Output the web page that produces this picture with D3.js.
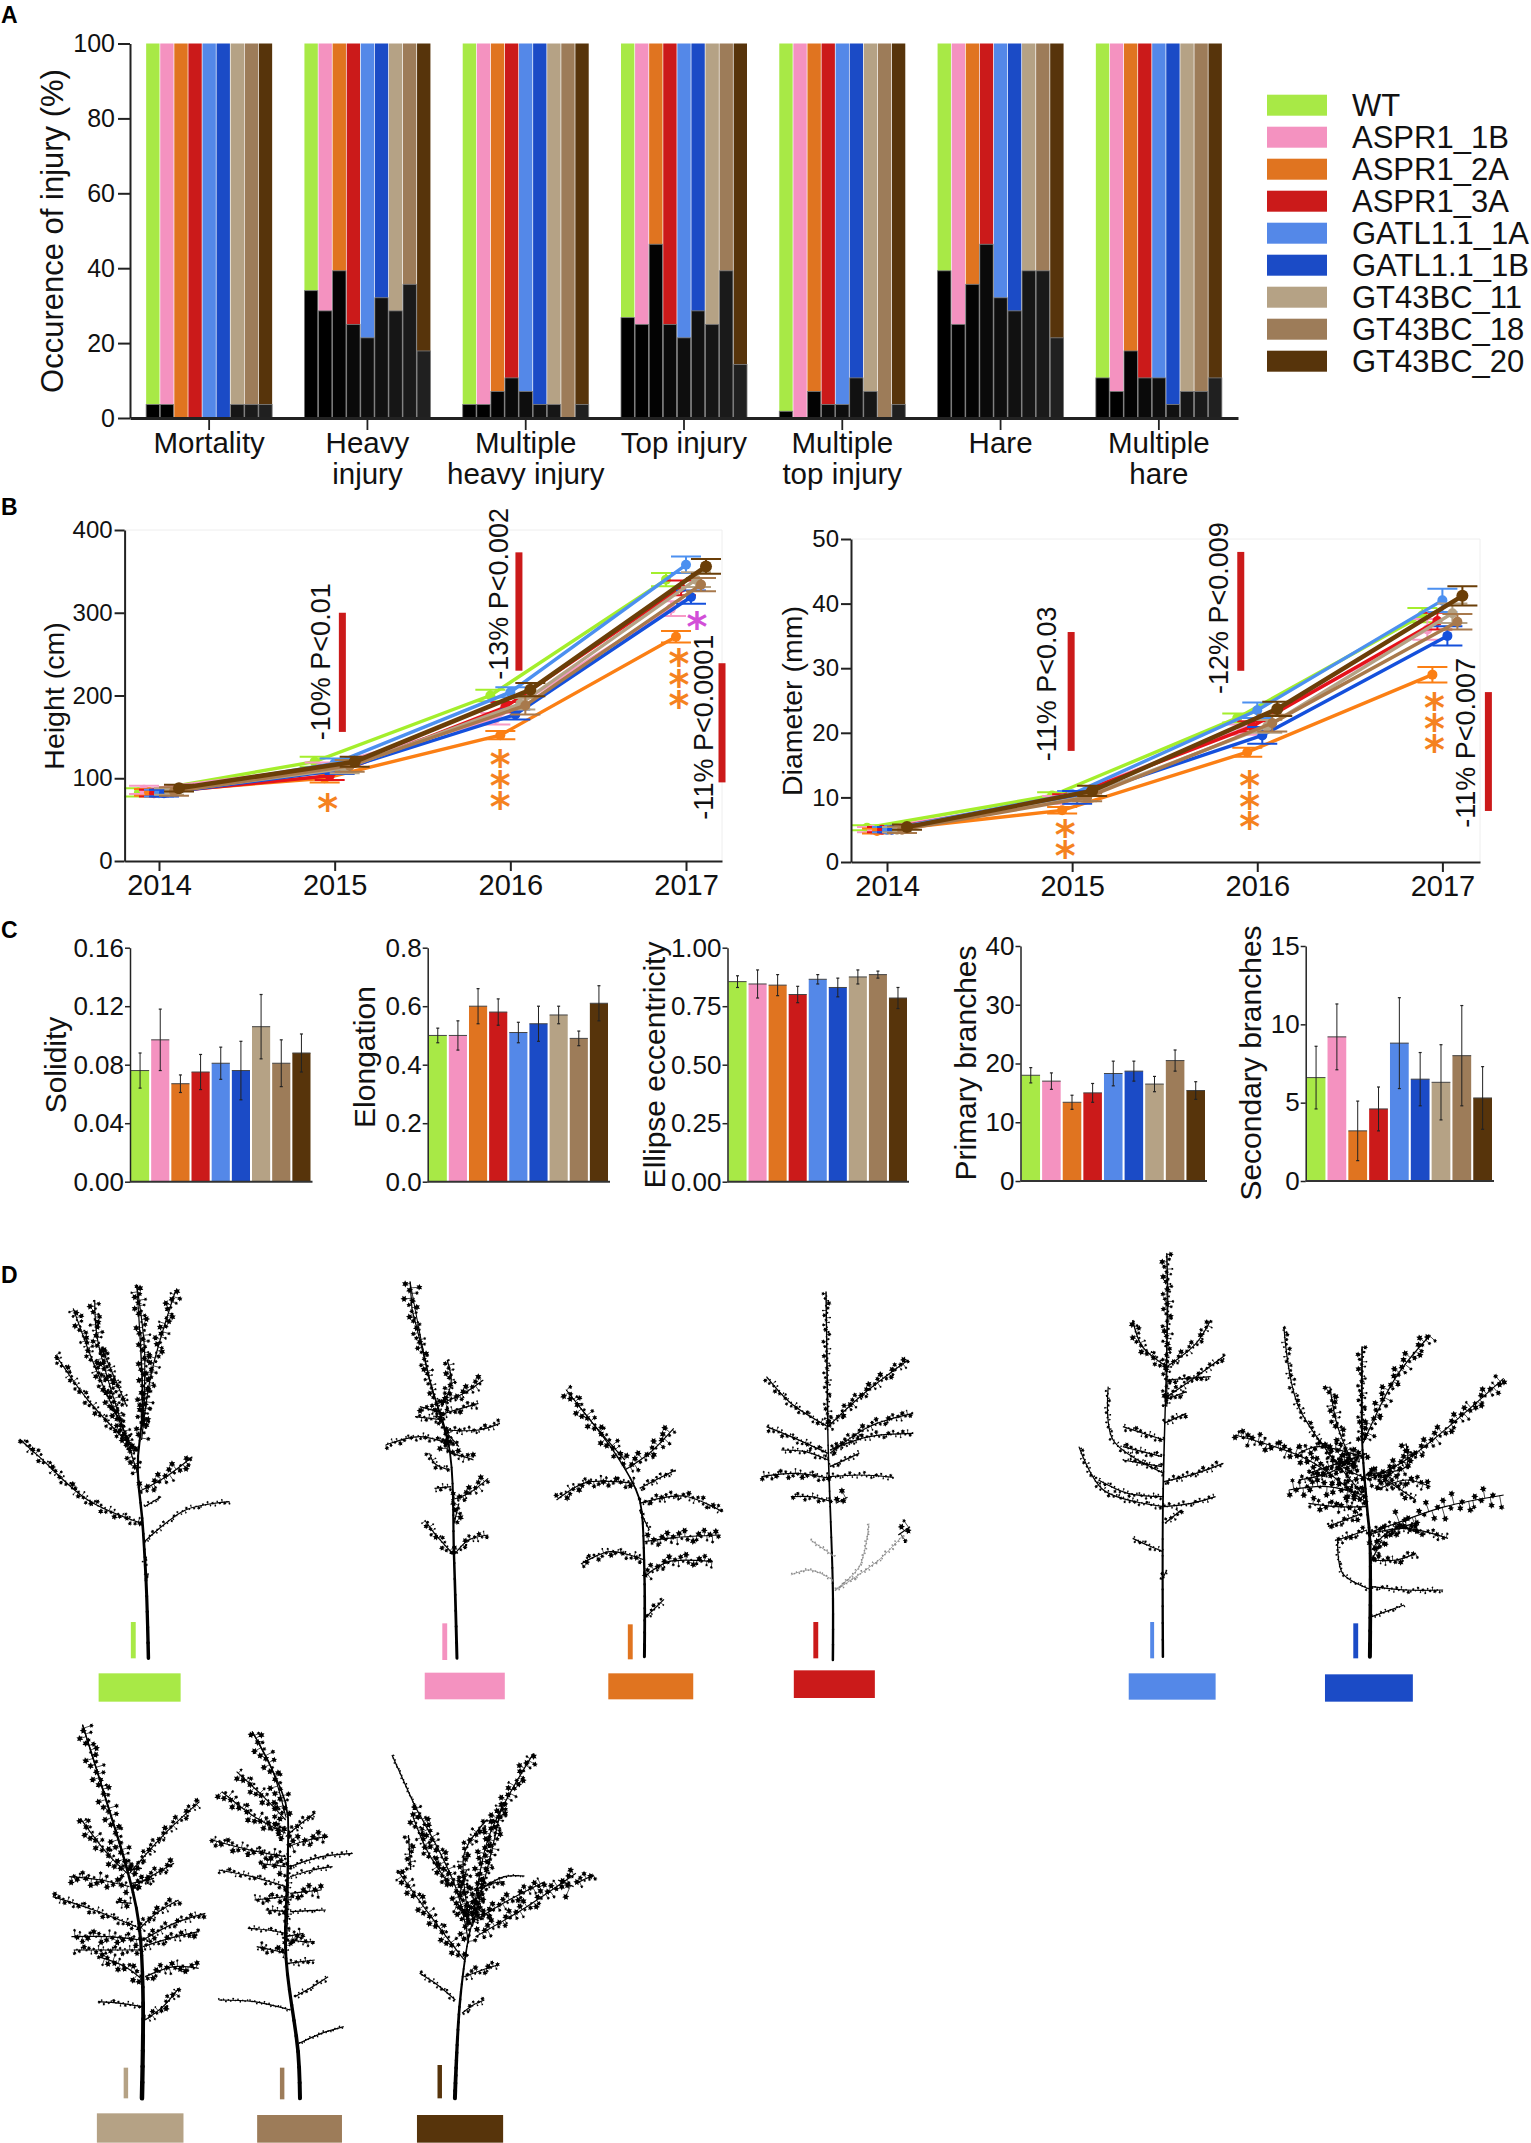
<!DOCTYPE html>
<html><head><meta charset="utf-8">
<script src="https://cdn.jsdelivr.net/npm/d3@7"></script>
<style>
html,body{margin:0;padding:0;background:#fff}
svg{display:block}
text{font-family:"Liberation Sans",Arial,sans-serif;fill:#111}
</style></head><body>
<svg id="c" width="1531" height="2143"></svg>
<script>
const lines = ["WT","ASPR1_1B","ASPR1_2A","ASPR1_3A","GATL1.1_1A","GATL1.1_1B","GT43BC_11","GT43BC_18","GT43BC_20"];
const barColors = ["#a8e946","#f492c0","#e07420","#cb1a1a","#5488e8","#1b4bc6","#b5a285","#9d7c59","#57340b"];
const lineColors = ["#a4ee2c","#f79ac6","#fb7f14","#e5121a","#4c90f0","#1450dc","#b5a285","#a8794c","#6a3e08"];
const darkShades = ["#000","#000","#030303","#0a0a0a","#0e0e0e","#111","#161616","#1a1a1a","#202020"];

// Panel A
const injuryCats = [["Mortality"],["Heavy","injury"],["Multiple","heavy injury"],["Top injury"],["Multiple","top injury"],["Hare"],["Multiple","hare"]];
const mortality = [3.6,3.6,0,0,0,0,3.6,3.6,3.6];
const heavyInjury = [34,28.6,39.3,25,21.4,32.1,28.6,35.7,17.9];
const multiHeavy = [3.6,3.6,7.1,10.7,7.1,3.6,3.6,0,3.6];
const topInjury = [26.8,25,46.4,25,21.4,28.6,25,39.3,14.3];
const multiTop = [1.8,0,7.1,3.6,3.6,10.7,7.1,0,3.6];
const hare = [39.3,25,35.7,46.4,32.1,28.6,39.3,39.3,21.4];
const multiHare = [10.7,7.1,17.9,10.7,10.7,3.6,7.1,7.1,10.7];
const injuryTable = [mortality,heavyInjury,multiHeavy,topInjury,multiTop,hare,multiHare];

// Panel B
const years = [2014,2015,2016,2017];
const heightVals = [[83,120,200,340],[86,112,172,305],[83,100,152,271],[82,103,186,330],[82,118,204,358],[82,110,177,319],[84,112,190,340],[84,115,188,334],[88,120,207,356]];
const heightErr = [[5,6,7,8],[5,7,7,9],[4,5,5,7],[4,5,6,9],[4,6,6,10],[4,5,6,8],[4,6,7,9],[5,7,11,8],[4,6,8,9]];
const diamVals = [[5.3,10.3,22.3,38.2],[5,9.6,20.5,36],[4.8,8,17,29],[5,10,21,37.3],[5,10.5,23.5,40.5],[5,10,19.6,35],[5,10,21,38.5],[5,10,21.5,37.2],[5.4,11,23.7,41.2]];
const diamErr = [[.4,.5,.7,1.1],[.4,.6,.8,1.6],[.4,.5,.7,1.2],[.4,.5,.8,1.3],[.4,.5,1.2,1.8],[.4,1,1.3,1.5],[.4,.6,1,1.5],[.5,.6,1.3,1.2],[.4,.8,1.1,1.5]];
const heightNotes = [{y:2015,t:"-10% P<0.01",from:156,to:300,tb:146,bar:7.7,txt:-5},{y:2016,t:"-13% P<0.002",from:230,to:373,tb:219,bar:8.6,txt:-2.4},{y:2017,t:"-11% P<0.0001",from:95,to:239,tb:50,bar:36,txt:26.5}];
const diamNotes = [{y:2015,t:"-11% P<0.03",from:17.2,to:35.6,tb:15.6,bar:-1,txt:-16},{y:2016,t:"-12% P<0.009",from:29.6,to:48,tb:26,bar:-16.5,txt:-29.5},{y:2017,t:"-11% P<0.007",from:7.9,to:26.3,tb:5.3,bar:46,txt:32.6}];
const heightStars = [[2015,-7,71,"#f5821f"],[2016,-10,124.5,"#f5821f"],[2016,-10,99,"#f5821f"],[2016,-10,74,"#f5821f"],[2017,-7,246.5,"#f5821f"],[2017,-7,221,"#f5821f"],[2017,-7,196,"#f5821f"],[2017,11,291,"#d24fd8"]];
const diamStars = [[2015,-7,5.3,"#f5821f"],[2015,-7,2,"#f5821f"],[2016,-7.5,12.8,"#f5821f"],[2016,-7.5,9.6,"#f5821f"],[2016,-7.5,6.5,"#f5821f"],[2017,-8,24.9,"#f5821f"],[2017,-8,21.7,"#f5821f"],[2017,-8,18.4,"#f5821f"]];

// Panel C
const solidity = [.076,.097,.067,.075,.081,.076,.106,.081,.088];
const solidityErr = [.012,.021,.006,.012,.011,.02,.022,.016,.013];
const elongation = [.50,.50,.60,.58,.51,.54,.57,.49,.61];
const elongationErr = [.025,.05,.06,.045,.035,.06,.03,.025,.06];
const eccentricity = [.855,.845,.84,.80,.865,.83,.875,.885,.785];
const eccentricityErr = [.025,.06,.045,.035,.02,.04,.03,.015,.045];
const primary = [18,17,13.4,15,18.3,18.7,16.5,20.5,15.4];
const primaryErr = [1.3,1.4,1.2,1.6,2.1,1.7,1.3,1.8,1.5];
const secondary = [6.6,9.2,3.2,4.6,8.8,6.5,6.3,8.0,5.3];
const secondaryErr = [2,2.1,1.9,1.4,2.9,1.7,2.4,3.2,2];

// Panel D: silhouettes as [leaf size, points...] in reference crop units
const treeWT = {trunk:[[152,1255],[150,1050],[146,850],[141,680],[146,500],[140,135]],w:3.5,side:[
[4.5,[146,560],[148,330],[140,135]],[4,[141,700],[130,600],[100,300],[97,180]],[4.5,[145,600],[155,400],[180,150]],[3,[135,620],[90,480],[57,345]],[3.5,[138,640],[100,400],[75,205]],[3,[130,500],[105,330]],
[3,[145,850],[90,780],[40,650],[20,597]],[5,[142,755],[170,710],[197,650]],[1.8,[148,905],[190,810],[235,785]],[2,[150,1020],[152,1000]],[2,[150,950],[148,980]],[1.5,[148,800],[165,770]]]};
const tree1B = {trunk:[[468,1255],[465,950],[460,620],[440,420],[420,125]],w:3,side:[
[6,[422,210],[420,125]],[3.5,[440,420],[430,300],[422,210]],[3,[460,620],[450,520],[440,420]],[2.5,[458,610],[430,590],[395,615]],[2.5,[455,570],[490,570],[512,550]],[3.5,[452,500],[462,430],[458,360]],[4,[452,490],[475,460],[495,420]],
[4,[462,780],[480,760],[500,715]],[2.5,[460,690],[445,670],[440,640]],[3.5,[462,640],[475,650],[485,660]],[3,[465,945],[445,880],[435,840]],[3,[465,945],[480,900],[500,885]],
[4.5,[465,850],[470,790]],[2.5,[455,540],[425,530]],[2.5,[462,740],[445,745]],[3,[455,520],[490,490]],[3,[458,580],[470,620]],[3.5,[430,500],[455,520]],[6,[458,640],[458,600]]]};
const tree2A = {trunk:[[660,1250],[660,1000],[656,790],[650,740],[630,640],[580,450]],w:3,side:[
[5,[640,660],[610,560],[580,450]],[5,[640,690],[665,640],[690,565]],[3.5,[650,730],[600,728],[570,780]],[3,[655,790],[700,768],[740,815]],[2.5,[655,745],[675,715],[692,690]],
[3,[660,960],[625,935],[595,972]],[4,[660,1010],[685,965],[730,965]],[4.5,[660,905],[690,893],[738,885]],[2.5,[662,1130],[680,1078]],[1.5,[655,810],[665,870]]]};
const tree3A = {trunk:[[853,1260],[853,1050],[848,600],[846,155]],w:2.5,side:[
[2.5,[848,560],[847,350],[846,155]],[2.5,[848,560],[810,490],[785,410]],[3.5,[848,560],[885,460],[930,360]],[2.5,[848,640],[810,590],[785,560]],[3,[850,640],[890,560],[935,520]],[2.5,[850,630],[890,590],[935,580]],
[3,[850,715],[815,700],[780,710]],[2,[850,710],[880,705],[915,712]],[2.5,[852,785],[830,770],[810,770]],[7,[856,790],[868,772]],[2,[848,660],[825,635],[800,630]],
[-1,[853,1020],[830,990],[810,1005]],[-1,[855,1050],[880,980],[890,850]],[-1,[855,950],[830,900]],[-1.5,[856,1050],[900,960],[925,885]],[6,[920,885],[932,860]],[2,[850,680],[880,640]]]};
const treeA1 = {trunk:[[1191,1250],[1191,800],[1195,300],[1195,40]],w:2.5,side:[
[3.5,[1195,330],[1196,180],[1195,40]],[3,[1195,500],[1195,330]],[2,[1192,800],[1130,750],[1105,620]],[1.8,[1192,700],[1140,600],[1135,440]],[2.5,[1192,725],[1225,700],[1253,670]],[2,[1192,770],[1155,760],[1125,720]],
[3.5,[1195,380],[1170,320],[1160,240]],[3,[1195,380],[1225,310],[1240,240]],[2.5,[1195,470],[1225,410],[1255,345]],[2,[1192,800],[1220,790],[1245,770]],
[2,[1191,935],[1175,915],[1160,895]],[2,[1190,1020],[1195,990]],[2.5,[1190,650],[1150,620]],[2.5,[1192,600],[1150,560]],[2.5,[1192,550],[1215,520]],[2.5,[1193,480],[1215,455]],[2.5,[1195,420],[1240,410]],[2,[1190,680],[1150,660]],[2.5,[1193,850],[1210,810]]]};
const treeB1 = {trunk:[[1403,1250],[1403,900],[1400,800],[1395,600],[1395,320]],w:4,side:[
[3,[1395,600],[1395,460],[1395,320]],[5,[1396,610],[1430,410],[1465,285]],[5,[1400,720],[1445,650],[1540,415]],[8,[1430,850],[1480,800],[1540,765]],[2.5,[1400,880],[1430,850]],[2.5,[1395,760],[1330,500],[1315,260]],[5,[1395,780],[1340,660],[1265,585]],
[4,[1390,700],[1370,560],[1362,440]],[6,[1400,770],[1360,740],[1320,750]],[4,[1410,750],[1440,720],[1465,740]],[3,[1405,880],[1440,865],[1483,895]],[1.5,[1405,1050],[1375,1000],[1370,900]],
[2,[1405,1040],[1440,1050],[1478,1050]],[3,[1403,960],[1430,960],[1450,940]],[1.5,[1405,1130],[1438,1095]],[4,[1400,700],[1440,680],[1440,610]],[4,[1395,650],[1350,620],[1330,640]],
[4,[1400,800],[1370,800],[1340,790]],[5,[1405,930],[1420,880],[1450,850]],[3,[1370,900],[1400,870]],[3,[1385,660],[1360,700],[1330,720]],[4,[1405,720],[1380,690],[1360,640]],[3.5,[1340,700],[1400,640]],[3,[1410,700],[1450,780]],[3,[1360,860],[1395,820]],[4,[1405,960],[1415,900]]]};
const tree11 = {trunk:[[318,1135],[320,800],[310,600],[285,450],[240,250],[185,15]],w:4.5,side:[
[6,[285,450],[240,250],[185,15]],[5,[285,460],[240,400],[180,295]],[3.5,[290,460],[370,340],[447,245]],[5,[290,500],[225,480],[155,470]],[4,[300,500],[350,460],[390,430]],[3,[305,620],[210,570],[118,530]],[3.5,[310,630],[350,580],[400,540]],
[4.5,[315,660],[240,650],[160,650]],[3,[320,660],[390,610],[460,580]],[3,[320,690],[240,690],[165,690]],[3.5,[320,680],[380,655],[445,635]],[5,[320,780],[280,740],[220,710]],[4.5,[325,770],[390,740],[445,745]],
[2,[320,860],[270,850],[220,845]],[3.5,[325,900],[365,860],[400,805]],[4,[295,550],[275,548],[260,545]],[7,[285,450],[318,445]],[3.5,[295,490],[345,475]]]};
const tree18 = {trunk:[[672,1135],[668,1000],[640,700],[645,400],[640,250],[565,35]],w:4,side:[
[6,[640,290],[610,150],[565,35]],[2.5,[640,700],[645,550],[645,400]],[4.5,[640,300],[590,230],[530,155]],[5,[640,340],[570,290],[497,215]],[3,[640,350],[675,310],[705,280]],[4,[640,410],[560,390],[475,360]],[5,[645,380],[690,360],[735,350]],
[6,[640,440],[610,435],[580,430]],[2,[650,440],[720,410],[790,400]],[2.5,[640,500],[565,470],[490,450]],[2,[650,470],[700,450],[745,440]],[3.5,[640,530],[605,535],[570,540]],[5,[650,520],[685,515],[720,510]],
[3,[645,575],[620,572],[595,570]],[1.5,[650,575],[690,572],[730,570]],[2,[640,640],[600,630],[555,625]],[3.5,[640,700],[610,690],[575,680]],[3,[650,660],[680,665],[705,665]],[2.5,[645,730],[675,725],[705,720]],
[2,[660,830],[700,800],[735,770]],[1.2,[650,870],[570,845],[490,840]],[1.2,[670,970],[720,940],[770,920]],[5,[640,320],[600,330]],[4,[640,650],[680,640]]]};
const tree20 = {trunk:[[1019,1135],[1030,850],[1050,650],[1062,590]],w:4,side:[
[5,[1060,590],[1095,350],[1195,100]],[4.5,[1058,620],[1100,400],[1125,250]],[5,[1050,670],[1020,500],[930,260]],[1,[930,260],[878,105]],[5,[1040,720],[960,580],[890,450]],[5,[1065,650],[1180,560],[1290,460]],[4,[1290,490],[1330,465]],
[4.5,[1065,600],[1140,540],[1220,485]],[12,[1250,480],[1285,500]],[4,[1050,590],[1040,400],[1090,300]],[3.5,[1040,770],[1080,750],[1115,735]],[2,[1020,840],[980,795],[940,760]],[2.5,[1035,880],[1060,855],[1085,840]],
[4,[1010,500],[960,400],[925,290]],[3.5,[920,450],[915,345]],[3,[1060,560],[1085,500],[1130,485]],[0.7,[1085,500],[1130,470],[1175,468]],[4,[1030,520],[1045,450]],[4,[1060,590],[1020,560]],[4,[1100,590],[1060,560]]]};
const treesUpper = [treeWT,tree1B,tree2A,tree3A,treeA1,treeB1];
const treesLower = [tree11,tree18,tree20];
// colour key bars [colour index, stem x0, stem x1, stem y0, stem y1, box x0, box x1, box y0, box y1]
const keysUpper = [[0,134,139,1146,1255,101,185,1300,1385],[1,453,458,1150,1260,435,517,1298,1378],[2,643,648,1153,1258,623,710,1300,1378],[3,833,838,1146,1255,813,896,1291,1374],[4,1178,1182,1146,1255,1156,1245,1300,1379],[5,1386,1391,1150,1255,1357,1447,1303,1385]];
const keysLower = [[6,277,287,1043,1135,217,411,1180,1268],[7,627,637,1043,1138,576,766,1185,1268],[8,980,990,1035,1135,934,1127,1185,1268]];
// fixed repeating leaf patterns
const leafSizes = [1,.55,1.25,.8,.45,1.1,.7,1.4,.6,.95,.5];
const leafSpread = [.9,-.5,.2,-1.3,1.1,-.2,1.6,-.9,.4,-1.5,.7,-.1,1.2];
const leafGaps = [1,1.4,.8,1.7,1.1,.7,1.5];

const svg = d3.select("#c");
const ink = "#222";

function styleAxis(g, w){
  g.attr("font-family",null);
  g.selectAll(".domain").attr("stroke",ink).attr("stroke-width",w);
  g.selectAll(".tick line").attr("stroke",ink).attr("stroke-width",w);
}
function panelLabel(t,y){ svg.append("text").attr("x",1).attr("y",y).attr("font-size",23).attr("font-weight","bold").style("fill","#000").text(t); }
function yTitle(t,x,y,fs){ svg.append("text").attr("transform",`translate(${x},${y}) rotate(-90)`).attr("text-anchor","middle").attr("font-size",fs).text(t); }
panelLabel("A",23);panelLabel("B",515);panelLabel("C",938);panelLabel("D",1283);

// ---- A ----
{
  const x = d3.scaleBand().domain(injuryCats.map((d,i)=>i)).range([130,1238]);
  const inner = d3.scaleBand().domain(lines).range([-63,63]).paddingInner(.05);
  const y = d3.scaleLinear().domain([0,100]).range([418,43.5]);
  injuryTable.forEach((vals,c)=>{
    const g = svg.append("g").attr("transform",`translate(${x(c)+x.bandwidth()/2},0)`);
    g.selectAll(".top").data(vals).join("rect").attr("x",(d,i)=>inner(lines[i])).attr("width",inner.bandwidth())
      .attr("y",y(100)).attr("height",d=>y(d)-y(100)).attr("fill",(d,i)=>barColors[i]);
    g.selectAll(".low").data(vals.filter(d=>d>=0)).join("rect").attr("x",(d,i)=>inner(lines[i])).attr("width",inner.bandwidth())
      .attr("y",d=>y(d)).attr("height",d=>y(0)-y(d)).attr("fill",(d,i)=>darkShades[i]).attr("stroke",d=>d>0?"#777":"none").attr("stroke-width",.8);
  });
  const gy = svg.append("g").attr("transform","translate(130,0)").call(d3.axisLeft(y).tickValues([0,20,40,60,80,100]).tickSize(12).tickSizeOuter(0).tickPadding(3));
  gy.selectAll("text").attr("font-size",25);
  styleAxis(gy,2);
  const gx = svg.append("g").attr("transform","translate(0,418)").call(d3.axisBottom(x).tickSize(12).tickSizeOuter(0).tickFormat(""));
  styleAxis(gx,3);gx.selectAll(".tick line").attr("stroke-width",1.8);
  injuryCats.forEach((ls,i)=>{
    ls.forEach((l,j)=>svg.append("text").attr("x",x(i)+x.bandwidth()/2).attr("y",453+j*31).attr("text-anchor","middle").attr("font-size",29.5).text(l));
  });
  yTitle("Occurence of injury (%)",63,231,31);
  const ly = d3.scaleBand().domain(lines).range([94.7,94.7+32*9]);
  svg.selectAll(".lg").data(lines).join("rect").attr("x",1267).attr("width",60).attr("y",d=>ly(d)).attr("height",21).attr("fill",(d,i)=>barColors[i]);
  svg.selectAll(".lt").data(lines).join("text").attr("x",1352).attr("y",d=>ly(d)+21).attr("font-size",31).text(d=>d);
}

// ---- B ----
function growth(vals,errs,notes,stars,cfg){
  const x = d3.scaleLinear().domain(cfg.xd).range(cfg.xr);
  const y = d3.scaleLinear().domain([0,cfg.max]).range([cfg.y0,cfg.y1]);
  const dodge = d3.scaleLinear().domain([0,8]).range([-20,20]);
  const g = svg.append("g");
  g.append("path").attr("fill","none").attr("stroke","#eee").attr("stroke-width",1)
    .attr("d",`M${x.range()[0]},${y(cfg.max)}H${x.range()[1]}V${y(0)}`);
  d3.range(9).forEach(s=>{
    const pts = years.map((yr,i)=>[x(yr)+dodge(s),y(vals[s][i])]);
    const col = lineColors[s];
    g.append("path").attr("d",d3.line()(pts)).attr("fill","none").attr("stroke",col).attr("stroke-width",s===8?4.5:3.4);
    pts.forEach((p,i)=>{
      const top=y(vals[s][i]+errs[s][i]), bot=y(vals[s][i]-errs[s][i]);
      const c = d3.path(); c.moveTo(p[0],top);c.lineTo(p[0],bot);c.moveTo(p[0]-15,top);c.lineTo(p[0]+15,top);c.moveTo(p[0]-15,bot);c.lineTo(p[0]+15,bot);
      g.append("path").attr("d",c.toString()).attr("fill","none").attr("stroke",col).attr("stroke-width",2);
      g.append("circle").attr("cx",p[0]).attr("cy",p[1]).attr("r",s===8?6:5).attr("fill",col);
    });
  });
  notes.forEach(n=>{
    g.append("rect").attr("x",x(n.y)+n.bar-3.5).attr("width",7).attr("y",y(n.to)).attr("height",y(n.from)-y(n.to)).attr("fill","#cb1a1a");
    g.append("text").attr("transform",`translate(${x(n.y)+n.txt},${y(n.tb)}) rotate(-90)`).attr("font-size",27).text(n.t);
  });
  const fs=40;
  stars.forEach(s=>{
    g.append("text").attr("x",x(s[0])+s[1]).attr("y",y(s[2])+fs*.52).attr("text-anchor","middle").attr("font-size",fs).style("font-family","DejaVu Sans").style("font-weight","bold").style("fill",s[3]).text("*");
  });
  const gy = svg.append("g").attr("transform",`translate(${cfg.xr[0]},0)`).call(d3.axisLeft(y).tickValues(cfg.ticks).tickSize(10).tickSizeOuter(0).tickPadding(2));
  gy.selectAll("text").attr("font-size",24);styleAxis(gy,2);
  const gx = svg.append("g").attr("transform",`translate(0,${cfg.y0})`).call(d3.axisBottom(x).tickValues(years).tickFormat(d3.format("d")).tickSize(10).tickSizeOuter(0).tickPadding(3));
  gx.selectAll("text").attr("font-size",29).attr("dy","0.72em");styleAxis(gx,2);
  yTitle(cfg.title,cfg.tx,cfg.ty,28.5);
}
growth(heightVals,heightErr,heightNotes,heightStars,{xd:[2014-34.4/175.7,2017+36/175.7],xr:[124.6,722],max:400,y0:861,y1:530,ticks:[0,100,200,300,400],title:"Height (cm)",tx:64,ty:696});
growth(diamVals,diamErr,diamNotes,diamStars,{xd:[2014-36/185.1,2017+37.6/185.1],xr:[851,1480],max:50,y0:862,y1:539,ticks:[0,10,20,30,40,50],title:"Diameter (mm)",tx:802,ty:701});

// ---- C ----
function small(vals,errs,cfg){
  const x = d3.scaleBand().domain(d3.range(9)).range([cfg.x0+1,cfg.x1-2]).paddingInner(.1);
  const y = d3.scaleLinear().domain([0,cfg.max]).range([cfg.y0,cfg.y1]);
  const g = svg.append("g");
  g.selectAll("rect").data(vals).join("rect").attr("x",(d,i)=>x(i)).attr("width",x.bandwidth()).attr("y",d=>y(d)).attr("height",d=>cfg.y0-y(d)).attr("fill",(d,i)=>barColors[i]);
  g.selectAll(".tp").data(vals).join("line").attr("x1",(d,i)=>x(i)).attr("x2",(d,i)=>x(i)+x.bandwidth()).attr("y1",d=>y(d)).attr("y2",d=>y(d)).attr("stroke","#444").attr("stroke-width",1);
  vals.forEach((v,i)=>{
    const cx=x(i)+x.bandwidth()/2;
    g.append("line").attr("x1",cx).attr("x2",cx).attr("y1",y(v+errs[i])).attr("y2",y(v-errs[i])).attr("stroke","#222").attr("stroke-width",1);
    [v+errs[i],v-errs[i]].forEach(e=>g.append("line").attr("x1",cx-1.5).attr("x2",cx+1.5).attr("y1",y(e)).attr("y2",y(e)).attr("stroke","#222").attr("stroke-width",1.2));
  });
  const gy = svg.append("g").attr("transform",`translate(${cfg.x0},0)`).call(d3.axisLeft(y).tickValues(cfg.ticks).tickFormat(d3.format(cfg.fmt)).tickSize(5).tickSizeOuter(0).tickPadding(1));
  gy.selectAll("text").attr("font-size",26);styleAxis(gy,1.5);
  svg.append("line").attr("x1",cfg.x0).attr("x2",cfg.x1).attr("y1",cfg.y0).attr("y2",cfg.y0).attr("stroke","#333").attr("stroke-width",2);
  yTitle(cfg.title,cfg.tx,cfg.ty,30);
}
small(solidity,solidityErr,{x0:130,x1:312.5,y0:1181.7,y1:947.7,max:.16,ticks:[0,.04,.08,.12,.16],fmt:".2f",title:"Solidity",tx:66,ty:1065});
small(elongation,elongationErr,{x0:427.7,x1:610,y0:1181.7,y1:947.7,max:.8,ticks:[0,.2,.4,.6,.8],fmt:".1f",title:"Elongation",tx:375,ty:1057});
small(eccentricity,eccentricityErr,{x0:727.5,x1:909,y0:1181.7,y1:947.7,max:1,ticks:[0,.25,.5,.75,1],fmt:".2f",title:"Ellipse eccentricity",tx:665,ty:1065});
small(primary,primaryErr,{x0:1020.5,x1:1207,y0:1181,y1:946,max:40,ticks:[0,10,20,30,40],fmt:"d",title:"Primary branches",tx:976,ty:1063});
small(secondary,secondaryErr,{x0:1305.7,x1:1494,y0:1181,y1:946,max:15,ticks:[0,5,10,15],fmt:"d",title:"Secondary branches",tx:1261,ty:1063});

// ---- D ----
function addLeaf(p,cx,cy,s,ang){
  [0,1.05,2.1].forEach(o=>{
    const a=ang+o, ux=Math.cos(a), uy=Math.sin(a), w=s*.5;
    p.moveTo(cx+ux*s,cy+uy*s);p.lineTo(cx-uy*w,cy+ux*w);p.lineTo(cx-ux*s,cy-uy*s);p.lineTo(cx+uy*w,cy-ux*w);p.closePath();
  });
}
function drawTree(t,sx,sy,k){
  const g = svg.append("g");
  const line = d3.line().x(d=>sx(d[0])).y(d=>sy(d[1])).curve(d3.curveCatmullRom);
  const tr = g.append("path").attr("d",line(t.trunk)).attr("fill","none");
  const L = tr.node().getTotalLength();
  const steps = 24;
  d3.range(steps).forEach(i=>{
    const a=tr.node().getPointAtLength(L*i/steps), b=tr.node().getPointAtLength(L*(i+1)/steps);
    g.append("line").attr("x1",a.x).attr("y1",a.y).attr("x2",b.x).attr("y2",b.y).attr("stroke","#000").attr("stroke-linecap","round").attr("stroke-width",t.w*(1-i/steps*.75));
  });
  t.side.forEach((b,bi)=>{
    const leaf=b[0], pts=b.slice(1), size=Math.abs(leaf)*k;
    const col = leaf<0?"#8a8a8a":"#000";
    const pa = g.append("path").attr("d",line(pts)).attr("fill","none").attr("stroke",col).attr("stroke-width",leaf<0?.7:1.2);
    const n=pa.node(), len=n.getTotalLength();
    const shapes=d3.path(), twigs=d3.path();
    let s=size*.5, i=bi*3;
    while(s<len){
      const a=n.getPointAtLength(s), a2=n.getPointAtLength(Math.min(s+1,len));
      const ang=Math.atan2(a2.y-a.y,a2.x-a.x), off=leafSpread[i%leafSpread.length]*size*1.15;
      const cx=a.x-Math.sin(ang)*off, cy=a.y+Math.cos(ang)*off;
      addLeaf(shapes,cx,cy,Math.min(Math.max(size*leafSizes[i%leafSizes.length],1.1),3.6),ang+i*.9);
      twigs.moveTo(a.x,a.y);twigs.lineTo(cx,cy);
      s+=Math.max(size*.6*leafGaps[i%leafGaps.length],2.4);i++;
    }
    g.append("path").attr("d",twigs.toString()).attr("fill","none").attr("stroke",col).attr("stroke-width",.7);
    g.append("path").attr("d",shapes.toString()).attr("fill",col);
  });
}
function key(k,sx,sy){
  svg.append("rect").attr("x",sx(k[1])).attr("width",sx(k[2])-sx(k[1])).attr("y",sy(k[3])).attr("height",sy(k[4])-sy(k[3])).attr("fill",barColors[k[0]]);
  svg.append("rect").attr("x",sx(k[5])).attr("width",sx(k[6])-sx(k[5])).attr("y",sy(k[7])).attr("height",sy(k[8])-sy(k[7])).attr("fill",barColors[k[0]]);
}
{
  const sxU=d3.scaleLinear().domain([0,1568]).range([0,1531]), syU=d3.scaleLinear().domain([0,1440]).range([1240,1720]);
  const sxL=d3.scaleLinear().domain([0,1568]).range([0,700]), syL=d3.scaleLinear().domain([0,1269]).range([1720,2143]);
  treesUpper.forEach(t=>drawTree(t,sxU,syU,.8));
  treesLower.forEach(t=>drawTree(t,sxL,syL,.75));
  keysUpper.forEach(k=>key(k,sxU,syU));
  keysLower.forEach(k=>key(k,sxL,syL));
}
</script></body></html>
